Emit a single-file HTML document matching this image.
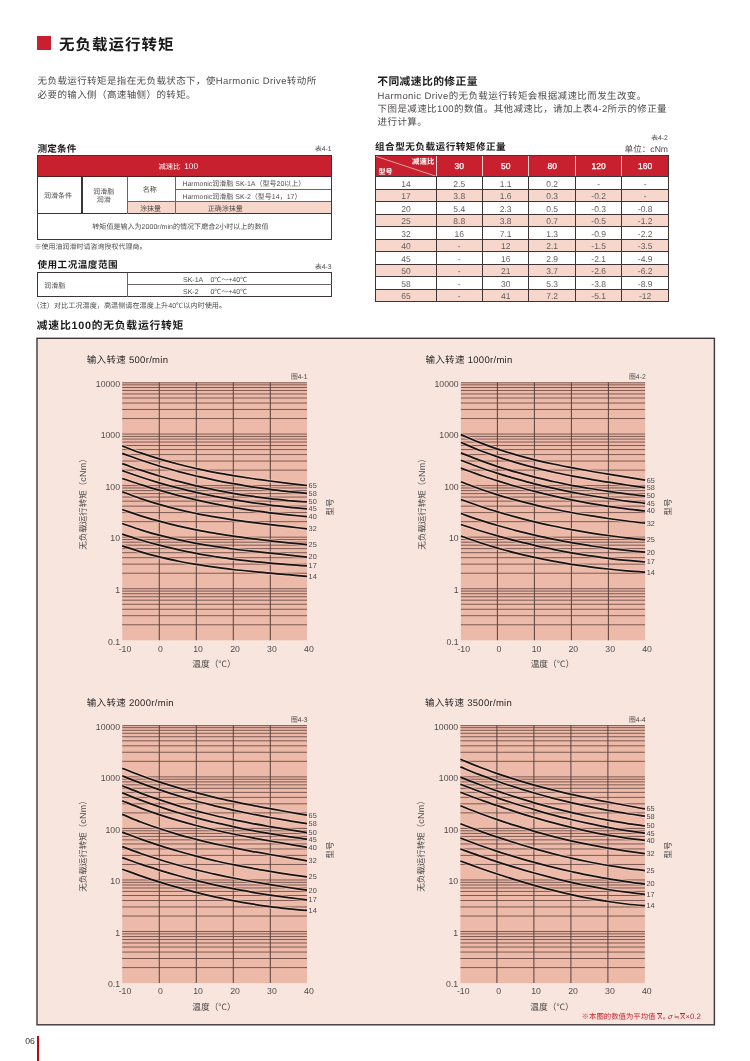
<!DOCTYPE html>
<html lang="zh"><head><meta charset="utf-8"><title>无负载运行转矩</title><style>
html,body{margin:0;padding:0;background:#fff;width:750px;height:1061px;overflow:hidden;}
#pg{will-change:transform;text-rendering:geometricPrecision;position:relative;width:750px;height:1061px;overflow:hidden;background:#fff;font-family:"Liberation Sans","Noto Sans CJK SC",sans-serif;color:#231f20;}
.t{position:absolute;white-space:nowrap;line-height:1.3;}
.b{position:absolute;box-sizing:border-box;display:block;}
</style></head><body>
<div id="pg">
<div class="b" style="left:37.00px;top:36.00px;width:14.00px;height:14.00px;background:#c8202f;"></div>
<div class="t" style="left:59.00px;top:35.60px;font-size:15.50px;font-weight:bold;color:#1a1a1a;letter-spacing:1.00px;">无负载运行转矩</div>
<div class="t" style="left:37.60px;top:76.22px;font-size:9.50px;color:#4f4b4b;letter-spacing:0.40px;">无负载运行转矩是指在无负载状态下，使Harmonic Drive转动所</div>
<div class="t" style="left:37.60px;top:89.53px;font-size:9.50px;color:#4f4b4b;letter-spacing:0.40px;">必要的输入侧（高速轴侧）的转矩。</div>
<div class="t" style="left:377.20px;top:75.40px;font-size:10.80px;font-weight:bold;color:#1a1a1a;letter-spacing:0.40px;">不同减速比的修正量</div>
<div class="t" style="left:377.60px;top:90.53px;font-size:9.50px;color:#4f4b4b;letter-spacing:0.40px;">Harmonic Drive的无负载运行转矩会根据减速比而发生改变。</div>
<div class="t" style="left:377.60px;top:103.92px;font-size:9.50px;color:#4f4b4b;letter-spacing:0.40px;">下图是减速比100的数值。其他减速比，请加上表4-2所示的修正量</div>
<div class="t" style="left:377.60px;top:117.22px;font-size:9.50px;color:#4f4b4b;letter-spacing:0.40px;">进行计算。</div>
<div class="t" style="left:37.60px;top:143.55px;font-size:9.60px;font-weight:bold;color:#1a1a1a;letter-spacing:0.10px;">测定条件</div>
<div class="t sm" style="left:331.60px;top:146.30px;font-size:6.80px;transform:translateX(-100%);color:#4f4b4b;">表4-1</div>
<div class="b" style="left:36.80px;top:155.00px;width:295.60px;height:85.20px;background:#fff;"></div>
<div class="b" style="left:36.80px;top:155.00px;width:295.60px;height:21.40px;background:#c8202f;"></div>
<div class="b" style="left:127.50px;top:201.40px;width:204.90px;height:12.20px;background:#f7d6cc;"></div>
<div class="b" style="left:36.80px;top:176.00px;width:295.60px;height:1.00px;background:#5a1a1e;"></div>
<div class="b" style="left:36.80px;top:213.15px;width:295.60px;height:1.30px;background:#3d3436;"></div>
<div class="b" style="left:175.60px;top:188.75px;width:156.80px;height:0.70px;background:#6b6565;"></div>
<div class="b" style="left:127.50px;top:200.95px;width:204.90px;height:0.70px;background:#6b6565;"></div>
<div class="b" style="left:81.40px;top:176.50px;width:1.20px;height:37.30px;background:#3d3436;"></div>
<div class="b" style="left:127.10px;top:176.50px;width:0.80px;height:37.30px;background:#6b6565;"></div>
<div class="b" style="left:175.25px;top:176.50px;width:0.70px;height:37.30px;background:#6b6565;"></div>
<div class="b" style="left:36.80px;top:155.00px;width:295.60px;height:85.20px;border:1.2px solid #3d3436;"></div>
<div class="t sm" style="left:180.40px;top:162.17px;font-size:7.30px;transform:translateX(-100%);color:#fff;">减速比</div>
<div class="t" style="left:184.20px;top:161.39px;font-size:8.40px;color:#fff;">100</div>
<div class="t sm" style="left:58.00px;top:192.29px;font-size:7.00px;transform:translateX(-50%);color:#4f4b4b;">润滑条件</div>
<div class="t sm" style="left:103.80px;top:188.19px;font-size:7.00px;transform:translateX(-50%);color:#4f4b4b;">润滑脂</div>
<div class="t sm" style="left:103.80px;top:196.39px;font-size:7.00px;transform:translateX(-50%);color:#4f4b4b;">润滑</div>
<div class="t sm" style="left:149.80px;top:186.05px;font-size:7.10px;transform:translateX(-50%);color:#4f4b4b;">名称</div>
<div class="t sm" style="left:150.40px;top:205.29px;font-size:7.00px;transform:translateX(-50%);color:#4f4b4b;">涂抹量</div>
<div class="t sm" style="left:182.40px;top:179.99px;font-size:7.00px;color:#4f4b4b;">Harmonic润滑脂 SK-1A（型号20以上）</div>
<div class="t sm" style="left:182.40px;top:192.79px;font-size:7.00px;color:#4f4b4b;">Harmonic润滑脂 SK-2（型号14，17）</div>
<div class="t sm" style="left:225.30px;top:205.09px;font-size:7.00px;transform:translateX(-50%);color:#4f4b4b;">正确涂抹量</div>
<div class="t sm" style="left:180.40px;top:223.08px;font-size:7.05px;transform:translateX(-50%);color:#4f4b4b;">转矩值是输入为2000r/min的情况下磨合2小时以上的数值</div>
<div class="t sm" style="left:34.40px;top:242.99px;font-size:7.00px;color:#4f4b4b;">※使用油润滑时请咨询授权代理商。</div>
<div class="t" style="left:37.40px;top:260.05px;font-size:9.60px;font-weight:bold;color:#1a1a1a;letter-spacing:0.50px;">使用工况温度范围</div>
<div class="t sm" style="left:331.60px;top:264.10px;font-size:6.80px;transform:translateX(-100%);color:#4f4b4b;">表4-3</div>
<div class="b" style="left:36.80px;top:271.80px;width:295.60px;height:25.70px;border:1.2px solid #3d3436;background:#fff;"></div>
<div class="b" style="left:127.20px;top:284.05px;width:205.20px;height:0.70px;background:#6b6565;"></div>
<div class="b" style="left:126.80px;top:272.50px;width:0.80px;height:24.50px;background:#6b6565;"></div>
<div class="t sm" style="left:44.20px;top:282.49px;font-size:7.00px;color:#4f4b4b;">润滑脂</div>
<div class="t sm" style="left:183.00px;top:276.46px;font-size:7.00px;color:#4f4b4b;">SK-1A</div>
<div class="t sm" style="left:210.40px;top:276.29px;font-size:7.00px;color:#4f4b4b;">0℃～+40℃</div>
<div class="t sm" style="left:183.00px;top:288.36px;font-size:7.00px;color:#4f4b4b;">SK-2</div>
<div class="t sm" style="left:210.40px;top:288.19px;font-size:7.00px;color:#4f4b4b;">0℃～+40℃</div>
<div class="t sm" style="left:32.50px;top:301.62px;font-size:7.15px;color:#4f4b4b;">（注）对比工况温度，高温侧请在温度上升40℃以内时使用。</div>
<div class="t" style="left:375.00px;top:142.15px;font-size:9.60px;font-weight:bold;color:#1a1a1a;letter-spacing:0.50px;">组合型无负载运行转矩修正量</div>
<div class="t sm" style="left:667.80px;top:135.30px;font-size:6.80px;transform:translateX(-100%);color:#4f4b4b;">表4-2</div>
<div class="t" style="left:668.00px;top:143.97px;font-size:8.60px;transform:translateX(-100%);color:#4f4b4b;">单位：cNm</div>
<div class="b" style="left:375.80px;top:155.30px;width:292.60px;height:146.30px;background:#fff;"></div>
<div class="b" style="left:375.80px;top:155.30px;width:292.60px;height:21.20px;background:#c8202f;"></div>
<div class="b" style="left:375.80px;top:189.01px;width:292.60px;height:12.51px;background:#f7d6cc;"></div>
<div class="b" style="left:375.80px;top:214.03px;width:292.60px;height:12.51px;background:#f7d6cc;"></div>
<div class="b" style="left:375.80px;top:239.05px;width:292.60px;height:12.51px;background:#f7d6cc;"></div>
<div class="b" style="left:375.80px;top:264.07px;width:292.60px;height:12.51px;background:#f7d6cc;"></div>
<div class="b" style="left:375.80px;top:289.09px;width:292.60px;height:12.51px;background:#f7d6cc;"></div>
<div class="b" style="left:375.80px;top:188.71px;width:292.60px;height:0.60px;background:#3d3436;"></div>
<div class="b" style="left:375.80px;top:201.22px;width:292.60px;height:0.60px;background:#3d3436;"></div>
<div class="b" style="left:375.80px;top:213.73px;width:292.60px;height:0.60px;background:#3d3436;"></div>
<div class="b" style="left:375.80px;top:226.24px;width:292.60px;height:0.60px;background:#3d3436;"></div>
<div class="b" style="left:375.80px;top:238.75px;width:292.60px;height:0.60px;background:#3d3436;"></div>
<div class="b" style="left:375.80px;top:251.26px;width:292.60px;height:0.60px;background:#3d3436;"></div>
<div class="b" style="left:375.80px;top:263.77px;width:292.60px;height:0.60px;background:#3d3436;"></div>
<div class="b" style="left:375.80px;top:276.28px;width:292.60px;height:0.60px;background:#3d3436;"></div>
<div class="b" style="left:375.80px;top:288.79px;width:292.60px;height:0.60px;background:#3d3436;"></div>
<div class="b" style="left:375.80px;top:176.10px;width:292.60px;height:0.80px;background:#3d3436;"></div>
<div class="b" style="left:435.55px;top:176.50px;width:1.10px;height:125.10px;background:#3d3436;"></div>
<div class="b" style="left:435.50px;top:155.90px;width:1.20px;height:20.20px;background:#f0cfcf;"></div>
<div class="b" style="left:481.85px;top:176.50px;width:1.10px;height:125.10px;background:#3d3436;"></div>
<div class="b" style="left:481.80px;top:155.90px;width:1.20px;height:20.20px;background:#f0cfcf;"></div>
<div class="b" style="left:528.35px;top:176.50px;width:1.10px;height:125.10px;background:#3d3436;"></div>
<div class="b" style="left:528.30px;top:155.90px;width:1.20px;height:20.20px;background:#f0cfcf;"></div>
<div class="b" style="left:574.85px;top:176.50px;width:1.10px;height:125.10px;background:#3d3436;"></div>
<div class="b" style="left:574.80px;top:155.90px;width:1.20px;height:20.20px;background:#f0cfcf;"></div>
<div class="b" style="left:621.35px;top:176.50px;width:1.10px;height:125.10px;background:#3d3436;"></div>
<div class="b" style="left:621.30px;top:155.90px;width:1.20px;height:20.20px;background:#f0cfcf;"></div>
<div class="b" style="left:375.30px;top:154.80px;width:293.60px;height:147.30px;border:1px solid #3d3436;"></div>
<svg class="b" style="left:376.30px;top:156.30px" width="60.30" height="20.20"><line x1="0" y1="0.3" x2="59.80" y2="20.20" stroke="#f3d3d0" stroke-width="0.7"/></svg>
<div class="t" style="left:434.30px;top:156.61px;font-size:7.40px;transform:translateX(-100%);font-weight:bold;color:#fff;">减速比</div>
<div class="t" style="left:378.40px;top:167.89px;font-size:7.00px;font-weight:bold;color:#fff;">型号</div>
<div class="t" style="left:459.25px;top:161.30px;font-size:8.50px;transform:translateX(-50%);color:#fff;-webkit-text-stroke:0.25px #fff;">30</div>
<div class="t" style="left:505.65px;top:161.30px;font-size:8.50px;transform:translateX(-50%);color:#fff;-webkit-text-stroke:0.25px #fff;">50</div>
<div class="t" style="left:552.15px;top:161.30px;font-size:8.50px;transform:translateX(-50%);color:#fff;-webkit-text-stroke:0.25px #fff;">80</div>
<div class="t" style="left:598.65px;top:161.30px;font-size:8.50px;transform:translateX(-50%);color:#fff;-webkit-text-stroke:0.25px #fff;">120</div>
<div class="t" style="left:645.15px;top:161.30px;font-size:8.50px;transform:translateX(-50%);color:#fff;-webkit-text-stroke:0.25px #fff;">160</div>
<div class="t" style="left:405.95px;top:178.90px;font-size:8.50px;transform:translateX(-50%);color:#625e5e;">14</div>
<div class="t" style="left:459.25px;top:178.90px;font-size:8.50px;transform:translateX(-50%);color:#625e5e;">2.5</div>
<div class="t" style="left:505.65px;top:178.90px;font-size:8.50px;transform:translateX(-50%);color:#625e5e;">1.1</div>
<div class="t" style="left:552.15px;top:178.90px;font-size:8.50px;transform:translateX(-50%);color:#625e5e;">0.2</div>
<div class="t" style="left:598.65px;top:178.90px;font-size:8.50px;transform:translateX(-50%);color:#625e5e;">-</div>
<div class="t" style="left:645.15px;top:178.90px;font-size:8.50px;transform:translateX(-50%);color:#625e5e;">-</div>
<div class="t" style="left:405.95px;top:191.41px;font-size:8.50px;transform:translateX(-50%);color:#625e5e;">17</div>
<div class="t" style="left:459.25px;top:191.41px;font-size:8.50px;transform:translateX(-50%);color:#625e5e;">3.8</div>
<div class="t" style="left:505.65px;top:191.41px;font-size:8.50px;transform:translateX(-50%);color:#625e5e;">1.6</div>
<div class="t" style="left:552.15px;top:191.41px;font-size:8.50px;transform:translateX(-50%);color:#625e5e;">0.3</div>
<div class="t" style="left:598.65px;top:191.41px;font-size:8.50px;transform:translateX(-50%);color:#625e5e;">-0.2</div>
<div class="t" style="left:645.15px;top:191.41px;font-size:8.50px;transform:translateX(-50%);color:#625e5e;">-</div>
<div class="t" style="left:405.95px;top:203.92px;font-size:8.50px;transform:translateX(-50%);color:#625e5e;">20</div>
<div class="t" style="left:459.25px;top:203.92px;font-size:8.50px;transform:translateX(-50%);color:#625e5e;">5.4</div>
<div class="t" style="left:505.65px;top:203.92px;font-size:8.50px;transform:translateX(-50%);color:#625e5e;">2.3</div>
<div class="t" style="left:552.15px;top:203.92px;font-size:8.50px;transform:translateX(-50%);color:#625e5e;">0.5</div>
<div class="t" style="left:598.65px;top:203.92px;font-size:8.50px;transform:translateX(-50%);color:#625e5e;">-0.3</div>
<div class="t" style="left:645.15px;top:203.92px;font-size:8.50px;transform:translateX(-50%);color:#625e5e;">-0.8</div>
<div class="t" style="left:405.95px;top:216.43px;font-size:8.50px;transform:translateX(-50%);color:#625e5e;">25</div>
<div class="t" style="left:459.25px;top:216.43px;font-size:8.50px;transform:translateX(-50%);color:#625e5e;">8.8</div>
<div class="t" style="left:505.65px;top:216.43px;font-size:8.50px;transform:translateX(-50%);color:#625e5e;">3.8</div>
<div class="t" style="left:552.15px;top:216.43px;font-size:8.50px;transform:translateX(-50%);color:#625e5e;">0.7</div>
<div class="t" style="left:598.65px;top:216.43px;font-size:8.50px;transform:translateX(-50%);color:#625e5e;">-0.5</div>
<div class="t" style="left:645.15px;top:216.43px;font-size:8.50px;transform:translateX(-50%);color:#625e5e;">-1.2</div>
<div class="t" style="left:405.95px;top:228.94px;font-size:8.50px;transform:translateX(-50%);color:#625e5e;">32</div>
<div class="t" style="left:459.25px;top:228.94px;font-size:8.50px;transform:translateX(-50%);color:#625e5e;">16</div>
<div class="t" style="left:505.65px;top:228.94px;font-size:8.50px;transform:translateX(-50%);color:#625e5e;">7.1</div>
<div class="t" style="left:552.15px;top:228.94px;font-size:8.50px;transform:translateX(-50%);color:#625e5e;">1.3</div>
<div class="t" style="left:598.65px;top:228.94px;font-size:8.50px;transform:translateX(-50%);color:#625e5e;">-0.9</div>
<div class="t" style="left:645.15px;top:228.94px;font-size:8.50px;transform:translateX(-50%);color:#625e5e;">-2.2</div>
<div class="t" style="left:405.95px;top:241.45px;font-size:8.50px;transform:translateX(-50%);color:#625e5e;">40</div>
<div class="t" style="left:459.25px;top:241.45px;font-size:8.50px;transform:translateX(-50%);color:#625e5e;">-</div>
<div class="t" style="left:505.65px;top:241.45px;font-size:8.50px;transform:translateX(-50%);color:#625e5e;">12</div>
<div class="t" style="left:552.15px;top:241.45px;font-size:8.50px;transform:translateX(-50%);color:#625e5e;">2.1</div>
<div class="t" style="left:598.65px;top:241.45px;font-size:8.50px;transform:translateX(-50%);color:#625e5e;">-1.5</div>
<div class="t" style="left:645.15px;top:241.45px;font-size:8.50px;transform:translateX(-50%);color:#625e5e;">-3.5</div>
<div class="t" style="left:405.95px;top:253.96px;font-size:8.50px;transform:translateX(-50%);color:#625e5e;">45</div>
<div class="t" style="left:459.25px;top:253.96px;font-size:8.50px;transform:translateX(-50%);color:#625e5e;">-</div>
<div class="t" style="left:505.65px;top:253.96px;font-size:8.50px;transform:translateX(-50%);color:#625e5e;">16</div>
<div class="t" style="left:552.15px;top:253.96px;font-size:8.50px;transform:translateX(-50%);color:#625e5e;">2.9</div>
<div class="t" style="left:598.65px;top:253.96px;font-size:8.50px;transform:translateX(-50%);color:#625e5e;">-2.1</div>
<div class="t" style="left:645.15px;top:253.96px;font-size:8.50px;transform:translateX(-50%);color:#625e5e;">-4.9</div>
<div class="t" style="left:405.95px;top:266.47px;font-size:8.50px;transform:translateX(-50%);color:#625e5e;">50</div>
<div class="t" style="left:459.25px;top:266.47px;font-size:8.50px;transform:translateX(-50%);color:#625e5e;">-</div>
<div class="t" style="left:505.65px;top:266.47px;font-size:8.50px;transform:translateX(-50%);color:#625e5e;">21</div>
<div class="t" style="left:552.15px;top:266.47px;font-size:8.50px;transform:translateX(-50%);color:#625e5e;">3.7</div>
<div class="t" style="left:598.65px;top:266.47px;font-size:8.50px;transform:translateX(-50%);color:#625e5e;">-2.6</div>
<div class="t" style="left:645.15px;top:266.47px;font-size:8.50px;transform:translateX(-50%);color:#625e5e;">-6.2</div>
<div class="t" style="left:405.95px;top:278.98px;font-size:8.50px;transform:translateX(-50%);color:#625e5e;">58</div>
<div class="t" style="left:459.25px;top:278.98px;font-size:8.50px;transform:translateX(-50%);color:#625e5e;">-</div>
<div class="t" style="left:505.65px;top:278.98px;font-size:8.50px;transform:translateX(-50%);color:#625e5e;">30</div>
<div class="t" style="left:552.15px;top:278.98px;font-size:8.50px;transform:translateX(-50%);color:#625e5e;">5.3</div>
<div class="t" style="left:598.65px;top:278.98px;font-size:8.50px;transform:translateX(-50%);color:#625e5e;">-3.8</div>
<div class="t" style="left:645.15px;top:278.98px;font-size:8.50px;transform:translateX(-50%);color:#625e5e;">-8.9</div>
<div class="t" style="left:405.95px;top:291.49px;font-size:8.50px;transform:translateX(-50%);color:#625e5e;">65</div>
<div class="t" style="left:459.25px;top:291.49px;font-size:8.50px;transform:translateX(-50%);color:#625e5e;">-</div>
<div class="t" style="left:505.65px;top:291.49px;font-size:8.50px;transform:translateX(-50%);color:#625e5e;">41</div>
<div class="t" style="left:552.15px;top:291.49px;font-size:8.50px;transform:translateX(-50%);color:#625e5e;">7.2</div>
<div class="t" style="left:598.65px;top:291.49px;font-size:8.50px;transform:translateX(-50%);color:#625e5e;">-5.1</div>
<div class="t" style="left:645.15px;top:291.49px;font-size:8.50px;transform:translateX(-50%);color:#625e5e;">-12</div>
<div class="t" style="left:36.80px;top:319.40px;font-size:10.80px;font-weight:bold;color:#1a1a1a;letter-spacing:0.75px;">减速比100的无负载运行转矩</div>
<svg class="b" style="left:30px;top:330px" width="700" height="705" viewBox="30 330 700 705"><rect x="37.0" y="338.3" width="677.4" height="686.5" fill="#f8e5de" stroke="#40373a" stroke-width="1.4"/></svg>
<svg class="b" style="left:121px;top:380px" width="188" height="263" viewBox="0 0 188 263"><g transform="translate(1.20 2.50)"><rect x="0" y="0" width="184.8" height="257.8" fill="#edbaa9"/><path d="M0 242.28H184.8M0 233.20H184.8M0 226.76H184.8M0 221.76H184.8M0 217.68H184.8M0 214.23H184.8M0 211.24H184.8M0 208.60H184.8M0 206.24H184.8M0 190.72H184.8M0 181.64H184.8M0 175.20H184.8M0 170.20H184.8M0 166.12H184.8M0 162.67H184.8M0 159.68H184.8M0 157.04H184.8M0 154.68H184.8M0 139.16H184.8M0 130.08H184.8M0 123.64H184.8M0 118.64H184.8M0 114.56H184.8M0 111.11H184.8M0 108.12H184.8M0 105.48H184.8M0 103.12H184.8M0 87.60H184.8M0 78.52H184.8M0 72.08H184.8M0 67.08H184.8M0 63.00H184.8M0 59.55H184.8M0 56.56H184.8M0 53.92H184.8M0 51.56H184.8M0 36.04H184.8M0 26.96H184.8M0 20.52H184.8M0 15.52H184.8M0 11.44H184.8M0 7.99H184.8M0 5.00H184.8M0 2.36H184.8M0 0.3H184.8" stroke="#7c5a52" stroke-width="1" fill="none"/><path d="M37.10 0V257.8M74.10 0V257.8M111.10 0V257.8M148.10 0V257.8" stroke="#5c4541" stroke-width="1.05" fill="none"/><path d="M0.0 63.5C6.2 65.8 12.3 68.3 18.5 70.4C24.6 72.5 30.8 74.5 37.0 76.4C43.1 78.2 49.3 79.9 55.4 81.5C61.6 83.1 67.8 84.6 73.9 86.0C80.1 87.3 86.2 88.6 92.4 89.8C98.6 91.0 104.7 92.0 110.9 93.1C117.0 94.1 123.2 95.0 129.4 96.0C135.5 96.9 141.7 97.7 147.8 98.5C154.0 99.3 160.2 100.1 166.3 100.8C172.5 101.6 178.6 102.3 184.8 103.0M0.0 70.9C6.2 73.1 12.3 75.5 18.5 77.5C24.6 79.6 30.8 81.6 37.0 83.5C43.1 85.4 49.3 87.1 55.4 88.8C61.6 90.4 67.8 92.0 73.9 93.5C80.1 94.9 86.2 96.3 92.4 97.6C98.6 98.9 104.7 100.1 110.9 101.2C117.0 102.3 123.2 103.3 129.4 104.3C135.5 105.2 141.7 106.1 147.8 106.9C154.0 107.7 160.2 108.4 166.3 109.1C172.5 109.7 178.6 110.2 184.8 110.8M0.0 81.2C6.2 83.3 12.3 85.6 18.5 87.7C24.6 89.7 30.8 91.6 37.0 93.5C43.1 95.3 49.3 97.0 55.4 98.7C61.6 100.3 67.8 101.8 73.9 103.3C80.1 104.7 86.2 106.1 92.4 107.3C98.6 108.6 104.7 109.7 110.9 110.8C117.0 111.8 123.2 112.8 129.4 113.7C135.5 114.6 141.7 115.4 147.8 116.1C154.0 116.9 160.2 117.5 166.3 118.1C172.5 118.6 178.6 119.0 184.8 119.5M0.0 88.1C6.2 90.3 12.3 92.5 18.5 94.5C24.6 96.6 30.8 98.5 37.0 100.3C43.1 102.1 49.3 103.8 55.4 105.4C61.6 107.0 67.8 108.5 73.9 109.9C80.1 111.3 86.2 112.6 92.4 113.8C98.6 115.0 104.7 116.2 110.9 117.2C117.0 118.3 123.2 119.2 129.4 120.1C135.5 121.0 141.7 121.8 147.8 122.6C154.0 123.4 160.2 124.0 166.3 124.6C172.5 125.3 178.6 125.8 184.8 126.3M0.0 96.0C6.2 98.0 12.3 100.2 18.5 102.1C24.6 104.1 30.8 105.9 37.0 107.7C43.1 109.5 49.3 111.2 55.4 112.8C61.6 114.3 67.8 115.8 73.9 117.3C80.1 118.7 86.2 120.0 92.4 121.3C98.6 122.5 104.7 123.7 110.9 124.8C117.0 125.8 123.2 126.8 129.4 127.8C135.5 128.7 141.7 129.5 147.8 130.3C154.0 131.1 160.2 131.8 166.3 132.4C172.5 133.0 178.6 133.5 184.8 134.1M0.0 109.2C6.2 111.5 12.3 113.9 18.5 116.1C24.6 118.2 30.8 120.1 37.0 121.9C43.1 123.7 49.3 125.3 55.4 126.8C61.6 128.3 67.8 129.7 73.9 131.0C80.1 132.2 86.2 133.4 92.4 134.4C98.6 135.5 104.7 136.5 110.9 137.4C117.0 138.3 123.2 139.1 129.4 139.9C135.5 140.7 141.7 141.4 147.8 142.1C154.0 142.9 160.2 143.5 166.3 144.2C172.5 144.9 178.6 145.6 184.8 146.3M0.0 127.0C6.2 129.1 12.3 131.3 18.5 133.3C24.6 135.2 30.8 137.0 37.0 138.6C43.1 140.3 49.3 141.9 55.4 143.3C61.6 144.7 67.8 146.0 73.9 147.3C80.1 148.5 86.2 149.6 92.4 150.7C98.6 151.7 104.7 152.7 110.9 153.6C117.0 154.5 123.2 155.3 129.4 156.1C135.5 156.9 141.7 157.6 147.8 158.3C154.0 159.0 160.2 159.6 166.3 160.3C172.5 160.9 178.6 161.5 184.8 162.1M0.0 141.0C6.2 143.1 12.3 145.4 18.5 147.3C24.6 149.3 30.8 151.1 37.0 152.7C43.1 154.3 49.3 155.8 55.4 157.1C61.6 158.5 67.8 159.7 73.9 160.8C80.1 162.0 86.2 162.9 92.4 163.9C98.6 164.8 104.7 165.7 110.9 166.5C117.0 167.3 123.2 168.0 129.4 168.7C135.5 169.4 141.7 170.0 147.8 170.7C154.0 171.3 160.2 171.9 166.3 172.6C172.5 173.2 178.6 173.9 184.8 174.6M0.0 151.6C6.2 153.6 12.3 155.7 18.5 157.5C24.6 159.4 30.8 161.1 37.0 162.7C43.1 164.3 49.3 165.7 55.4 167.1C61.6 168.4 67.8 169.7 73.9 170.8C80.1 172.0 86.2 173.0 92.4 174.0C98.6 174.9 104.7 175.8 110.9 176.6C117.0 177.4 123.2 178.1 129.4 178.8C135.5 179.4 141.7 180.0 147.8 180.6C154.0 181.2 160.2 181.7 166.3 182.1C172.5 182.6 178.6 183.0 184.8 183.4M0.0 163.3C6.2 165.3 12.3 167.5 18.5 169.3C24.6 171.2 30.8 172.8 37.0 174.4C43.1 175.9 49.3 177.2 55.4 178.5C61.6 179.8 67.8 180.9 73.9 181.9C80.1 182.9 86.2 183.8 92.4 184.7C98.6 185.5 104.7 186.3 110.9 187.0C117.0 187.7 123.2 188.3 129.4 188.9C135.5 189.5 141.7 190.1 147.8 190.6C154.0 191.2 160.2 191.7 166.3 192.2C172.5 192.8 178.6 193.3 184.8 193.9" stroke="#f6d3c6" stroke-opacity="0.55" stroke-width="3.6" fill="none"/><path d="M0.0 63.5C6.2 65.8 12.3 68.3 18.5 70.4C24.6 72.5 30.8 74.5 37.0 76.4C43.1 78.2 49.3 79.9 55.4 81.5C61.6 83.1 67.8 84.6 73.9 86.0C80.1 87.3 86.2 88.6 92.4 89.8C98.6 91.0 104.7 92.0 110.9 93.1C117.0 94.1 123.2 95.0 129.4 96.0C135.5 96.9 141.7 97.7 147.8 98.5C154.0 99.3 160.2 100.1 166.3 100.8C172.5 101.6 178.6 102.3 184.8 103.0M0.0 70.9C6.2 73.1 12.3 75.5 18.5 77.5C24.6 79.6 30.8 81.6 37.0 83.5C43.1 85.4 49.3 87.1 55.4 88.8C61.6 90.4 67.8 92.0 73.9 93.5C80.1 94.9 86.2 96.3 92.4 97.6C98.6 98.9 104.7 100.1 110.9 101.2C117.0 102.3 123.2 103.3 129.4 104.3C135.5 105.2 141.7 106.1 147.8 106.9C154.0 107.7 160.2 108.4 166.3 109.1C172.5 109.7 178.6 110.2 184.8 110.8M0.0 81.2C6.2 83.3 12.3 85.6 18.5 87.7C24.6 89.7 30.8 91.6 37.0 93.5C43.1 95.3 49.3 97.0 55.4 98.7C61.6 100.3 67.8 101.8 73.9 103.3C80.1 104.7 86.2 106.1 92.4 107.3C98.6 108.6 104.7 109.7 110.9 110.8C117.0 111.8 123.2 112.8 129.4 113.7C135.5 114.6 141.7 115.4 147.8 116.1C154.0 116.9 160.2 117.5 166.3 118.1C172.5 118.6 178.6 119.0 184.8 119.5M0.0 88.1C6.2 90.3 12.3 92.5 18.5 94.5C24.6 96.6 30.8 98.5 37.0 100.3C43.1 102.1 49.3 103.8 55.4 105.4C61.6 107.0 67.8 108.5 73.9 109.9C80.1 111.3 86.2 112.6 92.4 113.8C98.6 115.0 104.7 116.2 110.9 117.2C117.0 118.3 123.2 119.2 129.4 120.1C135.5 121.0 141.7 121.8 147.8 122.6C154.0 123.4 160.2 124.0 166.3 124.6C172.5 125.3 178.6 125.8 184.8 126.3M0.0 96.0C6.2 98.0 12.3 100.2 18.5 102.1C24.6 104.1 30.8 105.9 37.0 107.7C43.1 109.5 49.3 111.2 55.4 112.8C61.6 114.3 67.8 115.8 73.9 117.3C80.1 118.7 86.2 120.0 92.4 121.3C98.6 122.5 104.7 123.7 110.9 124.8C117.0 125.8 123.2 126.8 129.4 127.8C135.5 128.7 141.7 129.5 147.8 130.3C154.0 131.1 160.2 131.8 166.3 132.4C172.5 133.0 178.6 133.5 184.8 134.1M0.0 109.2C6.2 111.5 12.3 113.9 18.5 116.1C24.6 118.2 30.8 120.1 37.0 121.9C43.1 123.7 49.3 125.3 55.4 126.8C61.6 128.3 67.8 129.7 73.9 131.0C80.1 132.2 86.2 133.4 92.4 134.4C98.6 135.5 104.7 136.5 110.9 137.4C117.0 138.3 123.2 139.1 129.4 139.9C135.5 140.7 141.7 141.4 147.8 142.1C154.0 142.9 160.2 143.5 166.3 144.2C172.5 144.9 178.6 145.6 184.8 146.3M0.0 127.0C6.2 129.1 12.3 131.3 18.5 133.3C24.6 135.2 30.8 137.0 37.0 138.6C43.1 140.3 49.3 141.9 55.4 143.3C61.6 144.7 67.8 146.0 73.9 147.3C80.1 148.5 86.2 149.6 92.4 150.7C98.6 151.7 104.7 152.7 110.9 153.6C117.0 154.5 123.2 155.3 129.4 156.1C135.5 156.9 141.7 157.6 147.8 158.3C154.0 159.0 160.2 159.6 166.3 160.3C172.5 160.9 178.6 161.5 184.8 162.1M0.0 141.0C6.2 143.1 12.3 145.4 18.5 147.3C24.6 149.3 30.8 151.1 37.0 152.7C43.1 154.3 49.3 155.8 55.4 157.1C61.6 158.5 67.8 159.7 73.9 160.8C80.1 162.0 86.2 162.9 92.4 163.9C98.6 164.8 104.7 165.7 110.9 166.5C117.0 167.3 123.2 168.0 129.4 168.7C135.5 169.4 141.7 170.0 147.8 170.7C154.0 171.3 160.2 171.9 166.3 172.6C172.5 173.2 178.6 173.9 184.8 174.6M0.0 151.6C6.2 153.6 12.3 155.7 18.5 157.5C24.6 159.4 30.8 161.1 37.0 162.7C43.1 164.3 49.3 165.7 55.4 167.1C61.6 168.4 67.8 169.7 73.9 170.8C80.1 172.0 86.2 173.0 92.4 174.0C98.6 174.9 104.7 175.8 110.9 176.6C117.0 177.4 123.2 178.1 129.4 178.8C135.5 179.4 141.7 180.0 147.8 180.6C154.0 181.2 160.2 181.7 166.3 182.1C172.5 182.6 178.6 183.0 184.8 183.4M0.0 163.3C6.2 165.3 12.3 167.5 18.5 169.3C24.6 171.2 30.8 172.8 37.0 174.4C43.1 175.9 49.3 177.2 55.4 178.5C61.6 179.8 67.8 180.9 73.9 181.9C80.1 182.9 86.2 183.8 92.4 184.7C98.6 185.5 104.7 186.3 110.9 187.0C117.0 187.7 123.2 188.3 129.4 188.9C135.5 189.5 141.7 190.1 147.8 190.6C154.0 191.2 160.2 191.7 166.3 192.2C172.5 192.8 178.6 193.3 184.8 193.9" stroke="#151313" stroke-width="1.75" fill="none"/></g></svg>
<div class="t" style="left:86.80px;top:354.93px;font-size:9.50px;color:#2a2626;letter-spacing:0.30px;">输入转速 500r/min</div>
<div class="t sm" style="left:307.60px;top:373.80px;font-size:6.80px;transform:translateX(-100%);color:#4f4b4b;">图4-1</div>
<div class="t" style="left:120.00px;top:378.80px;font-size:8.70px;transform:translateX(-100%);color:#4f4a4a;">10000</div>
<div class="t" style="left:120.00px;top:430.36px;font-size:8.70px;transform:translateX(-100%);color:#4f4a4a;">1000</div>
<div class="t" style="left:120.00px;top:481.92px;font-size:8.70px;transform:translateX(-100%);color:#4f4a4a;">100</div>
<div class="t" style="left:120.00px;top:533.48px;font-size:8.70px;transform:translateX(-100%);color:#4f4a4a;">10</div>
<div class="t" style="left:120.00px;top:585.04px;font-size:8.70px;transform:translateX(-100%);color:#4f4a4a;">1</div>
<div class="t" style="left:120.00px;top:636.60px;font-size:8.70px;transform:translateX(-100%);color:#4f4a4a;">0.1</div>
<div class="t" style="left:125.00px;top:643.60px;font-size:8.70px;transform:translateX(-50%);color:#4f4a4a;">-10</div>
<div class="t" style="left:160.46px;top:643.60px;font-size:8.70px;transform:translateX(-50%);color:#4f4a4a;">0</div>
<div class="t" style="left:198.02px;top:643.60px;font-size:8.70px;transform:translateX(-50%);color:#4f4a4a;">10</div>
<div class="t" style="left:234.98px;top:643.60px;font-size:8.70px;transform:translateX(-50%);color:#4f4a4a;">20</div>
<div class="t" style="left:271.94px;top:643.60px;font-size:8.70px;transform:translateX(-50%);color:#4f4a4a;">30</div>
<div class="t" style="left:308.90px;top:643.60px;font-size:8.70px;transform:translateX(-50%);color:#4f4a4a;">40</div>
<div class="t" style="left:214.00px;top:659.30px;font-size:8.70px;transform:translateX(-50%);color:#4f4b4b;">温度（℃）</div>
<div class="t sm" style="left:308.60px;top:480.86px;font-size:7.30px;color:#4f4b4b;">65</div>
<div class="t sm" style="left:308.60px;top:488.71px;font-size:7.30px;color:#4f4b4b;">58</div>
<div class="t sm" style="left:308.60px;top:497.41px;font-size:7.30px;color:#4f4b4b;">50</div>
<div class="t sm" style="left:308.60px;top:504.18px;font-size:7.30px;color:#4f4b4b;">45</div>
<div class="t sm" style="left:308.60px;top:511.96px;font-size:7.30px;color:#4f4b4b;">40</div>
<div class="t sm" style="left:308.60px;top:524.13px;font-size:7.30px;color:#4f4b4b;">32</div>
<div class="t sm" style="left:308.60px;top:539.98px;font-size:7.30px;color:#4f4b4b;">25</div>
<div class="t sm" style="left:308.60px;top:552.45px;font-size:7.30px;color:#4f4b4b;">20</div>
<div class="t sm" style="left:308.60px;top:561.32px;font-size:7.30px;color:#4f4b4b;">17</div>
<div class="t sm" style="left:308.60px;top:571.76px;font-size:7.30px;color:#4f4b4b;">14</div>
<div class="t" style="left:83.80px;top:501.50px;font-size:8.5px;color:#4f4b4b;transform:translate(-50%,-50%) rotate(-90deg);">无负载运行转矩（<span style="font-size:8.9px;letter-spacing:0.3px">cNm</span>）</div>
<div class="t" style="left:331.20px;top:507.10px;font-size:8.5px;color:#4f4b4b;transform:translate(-50%,-50%) rotate(-90deg);">型号</div>
<svg class="b" style="left:459px;top:380px" width="189" height="263" viewBox="0 0 189 263"><g transform="translate(1.90 2.50)"><rect x="0" y="0" width="184.2" height="257.8" fill="#edbaa9"/><path d="M0 242.28H184.2M0 233.20H184.2M0 226.76H184.2M0 221.76H184.2M0 217.68H184.2M0 214.23H184.2M0 211.24H184.2M0 208.60H184.2M0 206.24H184.2M0 190.72H184.2M0 181.64H184.2M0 175.20H184.2M0 170.20H184.2M0 166.12H184.2M0 162.67H184.2M0 159.68H184.2M0 157.04H184.2M0 154.68H184.2M0 139.16H184.2M0 130.08H184.2M0 123.64H184.2M0 118.64H184.2M0 114.56H184.2M0 111.11H184.2M0 108.12H184.2M0 105.48H184.2M0 103.12H184.2M0 87.60H184.2M0 78.52H184.2M0 72.08H184.2M0 67.08H184.2M0 63.00H184.2M0 59.55H184.2M0 56.56H184.2M0 53.92H184.2M0 51.56H184.2M0 36.04H184.2M0 26.96H184.2M0 20.52H184.2M0 15.52H184.2M0 11.44H184.2M0 7.99H184.2M0 5.00H184.2M0 2.36H184.2M0 0.3H184.2" stroke="#7c5a52" stroke-width="1" fill="none"/><path d="M36.50 0V257.8M73.50 0V257.8M110.50 0V257.8M147.50 0V257.8" stroke="#5c4541" stroke-width="1.05" fill="none"/><path d="M0.0 52.1C6.1 54.7 12.3 57.5 18.4 59.9C24.6 62.4 30.7 64.6 36.8 66.7C43.0 68.7 49.1 70.6 55.3 72.4C61.4 74.2 67.5 75.8 73.7 77.3C79.8 78.8 86.0 80.2 92.1 81.5C98.2 82.8 104.4 84.0 110.5 85.2C116.7 86.3 122.8 87.4 128.9 88.5C135.1 89.6 141.2 90.6 147.4 91.6C153.5 92.6 159.6 93.6 165.8 94.6C171.9 95.6 178.1 96.7 184.2 97.7M0.0 60.0C6.1 62.6 12.3 65.3 18.4 67.7C24.6 70.0 30.7 72.2 36.8 74.3C43.0 76.4 49.1 78.3 55.3 80.1C61.4 81.9 67.5 83.6 73.7 85.1C79.8 86.7 86.0 88.1 92.1 89.5C98.2 90.9 104.4 92.1 110.5 93.3C116.7 94.5 122.8 95.6 128.9 96.7C135.1 97.8 141.2 98.7 147.4 99.7C153.5 100.7 159.6 101.6 165.8 102.5C171.9 103.4 178.1 104.3 184.2 105.2M0.0 70.4C6.1 72.8 12.3 75.4 18.4 77.6C24.6 79.9 30.7 82.0 36.8 84.1C43.0 86.1 49.1 87.9 55.3 89.7C61.4 91.5 67.5 93.1 73.7 94.7C79.8 96.2 86.0 97.6 92.1 99.0C98.2 100.3 104.4 101.6 110.5 102.8C116.7 103.9 122.8 105.0 128.9 106.0C135.1 107.1 141.2 108.0 147.4 108.9C153.5 109.8 159.6 110.6 165.8 111.4C171.9 112.2 178.1 112.9 184.2 113.6M0.0 77.8C6.1 80.1 12.3 82.5 18.4 84.7C24.6 86.9 30.7 88.9 36.8 90.9C43.0 92.8 49.1 94.7 55.3 96.4C61.4 98.1 67.5 99.8 73.7 101.3C79.8 102.9 86.0 104.4 92.1 105.7C98.2 107.1 104.4 108.4 110.5 109.6C116.7 110.8 122.8 111.9 128.9 113.0C135.1 114.1 141.2 115.1 147.4 116.0C153.5 116.9 159.6 117.8 165.8 118.6C171.9 119.4 178.1 120.0 184.2 120.8M0.0 85.6C6.1 87.8 12.3 90.1 18.4 92.3C24.6 94.4 30.7 96.5 36.8 98.4C43.0 100.4 49.1 102.2 55.3 104.0C61.4 105.7 67.5 107.4 73.7 108.9C79.8 110.5 86.0 112.0 92.1 113.4C98.2 114.8 104.4 116.1 110.5 117.3C116.7 118.5 122.8 119.7 128.9 120.8C135.1 121.8 141.2 122.8 147.4 123.8C153.5 124.7 159.6 125.6 165.8 126.3C171.9 127.1 178.1 127.8 184.2 128.5M0.0 99.3C6.1 101.6 12.3 104.0 18.4 106.2C24.6 108.4 30.7 110.4 36.8 112.3C43.0 114.2 49.1 116.0 55.3 117.7C61.4 119.3 67.5 120.9 73.7 122.4C79.8 123.8 86.0 125.2 92.1 126.5C98.2 127.7 104.4 128.9 110.5 130.0C116.7 131.2 122.8 132.2 128.9 133.2C135.1 134.2 141.2 135.1 147.4 136.0C153.5 136.8 159.6 137.7 165.8 138.5C171.9 139.3 178.1 140.0 184.2 140.7M0.0 117.0C6.1 119.2 12.3 121.4 18.4 123.5C24.6 125.6 30.7 127.5 36.8 129.4C43.0 131.2 49.1 133.0 55.3 134.6C61.4 136.3 67.5 137.9 73.7 139.3C79.8 140.8 86.0 142.2 92.1 143.5C98.2 144.8 104.4 146.0 110.5 147.2C116.7 148.3 122.8 149.3 128.9 150.3C135.1 151.3 141.2 152.2 147.4 153.0C153.5 153.9 159.6 154.6 165.8 155.3C171.9 156.0 178.1 156.6 184.2 157.2M0.0 131.0C6.1 133.1 12.3 135.3 18.4 137.3C24.6 139.3 30.7 141.2 36.8 143.0C43.0 144.8 49.1 146.5 55.3 148.1C61.4 149.7 67.5 151.2 73.7 152.7C79.8 154.1 86.0 155.4 92.1 156.7C98.2 157.9 104.4 159.1 110.5 160.2C116.7 161.3 122.8 162.3 128.9 163.2C135.1 164.1 141.2 165.0 147.4 165.8C153.5 166.5 159.6 167.2 165.8 167.9C171.9 168.5 178.1 169.1 184.2 169.7M0.0 142.0C6.1 144.0 12.3 146.1 18.4 148.0C24.6 149.9 30.7 151.7 36.8 153.4C43.0 155.1 49.1 156.8 55.3 158.4C61.4 159.9 67.5 161.4 73.7 162.8C79.8 164.2 86.0 165.5 92.1 166.8C98.2 168.0 104.4 169.2 110.5 170.3C116.7 171.4 122.8 172.4 128.9 173.3C135.1 174.2 141.2 175.1 147.4 175.8C153.5 176.6 159.6 177.3 165.8 177.9C171.9 178.5 178.1 178.9 184.2 179.5M0.0 153.5C6.1 155.7 12.3 158.0 18.4 160.0C24.6 162.0 30.7 163.9 36.8 165.7C43.0 167.4 49.1 169.1 55.3 170.6C61.4 172.2 67.5 173.6 73.7 174.9C79.8 176.3 86.0 177.5 92.1 178.6C98.2 179.8 104.4 180.8 110.5 181.8C116.7 182.7 122.8 183.6 128.9 184.4C135.1 185.2 141.2 185.9 147.4 186.5C153.5 187.2 159.6 187.8 165.8 188.3C171.9 188.8 178.1 189.2 184.2 189.6" stroke="#f6d3c6" stroke-opacity="0.55" stroke-width="3.6" fill="none"/><path d="M0.0 52.1C6.1 54.7 12.3 57.5 18.4 59.9C24.6 62.4 30.7 64.6 36.8 66.7C43.0 68.7 49.1 70.6 55.3 72.4C61.4 74.2 67.5 75.8 73.7 77.3C79.8 78.8 86.0 80.2 92.1 81.5C98.2 82.8 104.4 84.0 110.5 85.2C116.7 86.3 122.8 87.4 128.9 88.5C135.1 89.6 141.2 90.6 147.4 91.6C153.5 92.6 159.6 93.6 165.8 94.6C171.9 95.6 178.1 96.7 184.2 97.7M0.0 60.0C6.1 62.6 12.3 65.3 18.4 67.7C24.6 70.0 30.7 72.2 36.8 74.3C43.0 76.4 49.1 78.3 55.3 80.1C61.4 81.9 67.5 83.6 73.7 85.1C79.8 86.7 86.0 88.1 92.1 89.5C98.2 90.9 104.4 92.1 110.5 93.3C116.7 94.5 122.8 95.6 128.9 96.7C135.1 97.8 141.2 98.7 147.4 99.7C153.5 100.7 159.6 101.6 165.8 102.5C171.9 103.4 178.1 104.3 184.2 105.2M0.0 70.4C6.1 72.8 12.3 75.4 18.4 77.6C24.6 79.9 30.7 82.0 36.8 84.1C43.0 86.1 49.1 87.9 55.3 89.7C61.4 91.5 67.5 93.1 73.7 94.7C79.8 96.2 86.0 97.6 92.1 99.0C98.2 100.3 104.4 101.6 110.5 102.8C116.7 103.9 122.8 105.0 128.9 106.0C135.1 107.1 141.2 108.0 147.4 108.9C153.5 109.8 159.6 110.6 165.8 111.4C171.9 112.2 178.1 112.9 184.2 113.6M0.0 77.8C6.1 80.1 12.3 82.5 18.4 84.7C24.6 86.9 30.7 88.9 36.8 90.9C43.0 92.8 49.1 94.7 55.3 96.4C61.4 98.1 67.5 99.8 73.7 101.3C79.8 102.9 86.0 104.4 92.1 105.7C98.2 107.1 104.4 108.4 110.5 109.6C116.7 110.8 122.8 111.9 128.9 113.0C135.1 114.1 141.2 115.1 147.4 116.0C153.5 116.9 159.6 117.8 165.8 118.6C171.9 119.4 178.1 120.0 184.2 120.8M0.0 85.6C6.1 87.8 12.3 90.1 18.4 92.3C24.6 94.4 30.7 96.5 36.8 98.4C43.0 100.4 49.1 102.2 55.3 104.0C61.4 105.7 67.5 107.4 73.7 108.9C79.8 110.5 86.0 112.0 92.1 113.4C98.2 114.8 104.4 116.1 110.5 117.3C116.7 118.5 122.8 119.7 128.9 120.8C135.1 121.8 141.2 122.8 147.4 123.8C153.5 124.7 159.6 125.6 165.8 126.3C171.9 127.1 178.1 127.8 184.2 128.5M0.0 99.3C6.1 101.6 12.3 104.0 18.4 106.2C24.6 108.4 30.7 110.4 36.8 112.3C43.0 114.2 49.1 116.0 55.3 117.7C61.4 119.3 67.5 120.9 73.7 122.4C79.8 123.8 86.0 125.2 92.1 126.5C98.2 127.7 104.4 128.9 110.5 130.0C116.7 131.2 122.8 132.2 128.9 133.2C135.1 134.2 141.2 135.1 147.4 136.0C153.5 136.8 159.6 137.7 165.8 138.5C171.9 139.3 178.1 140.0 184.2 140.7M0.0 117.0C6.1 119.2 12.3 121.4 18.4 123.5C24.6 125.6 30.7 127.5 36.8 129.4C43.0 131.2 49.1 133.0 55.3 134.6C61.4 136.3 67.5 137.9 73.7 139.3C79.8 140.8 86.0 142.2 92.1 143.5C98.2 144.8 104.4 146.0 110.5 147.2C116.7 148.3 122.8 149.3 128.9 150.3C135.1 151.3 141.2 152.2 147.4 153.0C153.5 153.9 159.6 154.6 165.8 155.3C171.9 156.0 178.1 156.6 184.2 157.2M0.0 131.0C6.1 133.1 12.3 135.3 18.4 137.3C24.6 139.3 30.7 141.2 36.8 143.0C43.0 144.8 49.1 146.5 55.3 148.1C61.4 149.7 67.5 151.2 73.7 152.7C79.8 154.1 86.0 155.4 92.1 156.7C98.2 157.9 104.4 159.1 110.5 160.2C116.7 161.3 122.8 162.3 128.9 163.2C135.1 164.1 141.2 165.0 147.4 165.8C153.5 166.5 159.6 167.2 165.8 167.9C171.9 168.5 178.1 169.1 184.2 169.7M0.0 142.0C6.1 144.0 12.3 146.1 18.4 148.0C24.6 149.9 30.7 151.7 36.8 153.4C43.0 155.1 49.1 156.8 55.3 158.4C61.4 159.9 67.5 161.4 73.7 162.8C79.8 164.2 86.0 165.5 92.1 166.8C98.2 168.0 104.4 169.2 110.5 170.3C116.7 171.4 122.8 172.4 128.9 173.3C135.1 174.2 141.2 175.1 147.4 175.8C153.5 176.6 159.6 177.3 165.8 177.9C171.9 178.5 178.1 178.9 184.2 179.5M0.0 153.5C6.1 155.7 12.3 158.0 18.4 160.0C24.6 162.0 30.7 163.9 36.8 165.7C43.0 167.4 49.1 169.1 55.3 170.6C61.4 172.2 67.5 173.6 73.7 174.9C79.8 176.3 86.0 177.5 92.1 178.6C98.2 179.8 104.4 180.8 110.5 181.8C116.7 182.7 122.8 183.6 128.9 184.4C135.1 185.2 141.2 185.9 147.4 186.5C153.5 187.2 159.6 187.8 165.8 188.3C171.9 188.8 178.1 189.2 184.2 189.6" stroke="#151313" stroke-width="1.75" fill="none"/></g></svg>
<div class="t" style="left:425.50px;top:354.93px;font-size:9.50px;color:#2a2626;letter-spacing:0.30px;">输入转速 1000r/min</div>
<div class="t sm" style="left:645.70px;top:373.80px;font-size:6.80px;transform:translateX(-100%);color:#4f4b4b;">图4-2</div>
<div class="t" style="left:458.70px;top:378.80px;font-size:8.70px;transform:translateX(-100%);color:#4f4a4a;">10000</div>
<div class="t" style="left:458.70px;top:430.36px;font-size:8.70px;transform:translateX(-100%);color:#4f4a4a;">1000</div>
<div class="t" style="left:458.70px;top:481.92px;font-size:8.70px;transform:translateX(-100%);color:#4f4a4a;">100</div>
<div class="t" style="left:458.70px;top:533.48px;font-size:8.70px;transform:translateX(-100%);color:#4f4a4a;">10</div>
<div class="t" style="left:458.70px;top:585.04px;font-size:8.70px;transform:translateX(-100%);color:#4f4a4a;">1</div>
<div class="t" style="left:458.70px;top:636.60px;font-size:8.70px;transform:translateX(-100%);color:#4f4a4a;">0.1</div>
<div class="t" style="left:463.70px;top:643.60px;font-size:8.70px;transform:translateX(-50%);color:#4f4a4a;">-10</div>
<div class="t" style="left:499.04px;top:643.60px;font-size:8.70px;transform:translateX(-50%);color:#4f4a4a;">0</div>
<div class="t" style="left:536.48px;top:643.60px;font-size:8.70px;transform:translateX(-50%);color:#4f4a4a;">10</div>
<div class="t" style="left:573.32px;top:643.60px;font-size:8.70px;transform:translateX(-50%);color:#4f4a4a;">20</div>
<div class="t" style="left:610.16px;top:643.60px;font-size:8.70px;transform:translateX(-50%);color:#4f4a4a;">30</div>
<div class="t" style="left:647.00px;top:643.60px;font-size:8.70px;transform:translateX(-50%);color:#4f4a4a;">40</div>
<div class="t" style="left:552.40px;top:659.30px;font-size:8.70px;transform:translateX(-50%);color:#4f4b4b;">温度（℃）</div>
<div class="t sm" style="left:646.70px;top:475.58px;font-size:7.30px;color:#4f4b4b;">65</div>
<div class="t sm" style="left:646.70px;top:483.07px;font-size:7.30px;color:#4f4b4b;">58</div>
<div class="t sm" style="left:646.70px;top:491.48px;font-size:7.30px;color:#4f4b4b;">50</div>
<div class="t sm" style="left:646.70px;top:498.66px;font-size:7.30px;color:#4f4b4b;">45</div>
<div class="t sm" style="left:646.70px;top:506.39px;font-size:7.30px;color:#4f4b4b;">40</div>
<div class="t sm" style="left:646.70px;top:518.62px;font-size:7.30px;color:#4f4b4b;">32</div>
<div class="t sm" style="left:646.70px;top:535.09px;font-size:7.30px;color:#4f4b4b;">25</div>
<div class="t sm" style="left:646.70px;top:547.53px;font-size:7.30px;color:#4f4b4b;">20</div>
<div class="t sm" style="left:646.70px;top:557.35px;font-size:7.30px;color:#4f4b4b;">17</div>
<div class="t sm" style="left:646.70px;top:567.50px;font-size:7.30px;color:#4f4b4b;">14</div>
<div class="t" style="left:422.50px;top:501.50px;font-size:8.5px;color:#4f4b4b;transform:translate(-50%,-50%) rotate(-90deg);">无负载运行转矩（<span style="font-size:8.9px;letter-spacing:0.3px">cNm</span>）</div>
<div class="t" style="left:669.30px;top:507.10px;font-size:8.5px;color:#4f4b4b;transform:translate(-50%,-50%) rotate(-90deg);">型号</div>
<svg class="b" style="left:121px;top:723px" width="188" height="263" viewBox="0 0 188 263"><g transform="translate(1.20 2.30)"><rect x="0" y="0" width="184.8" height="257.8" fill="#edbaa9"/><path d="M0 242.28H184.8M0 233.20H184.8M0 226.76H184.8M0 221.76H184.8M0 217.68H184.8M0 214.23H184.8M0 211.24H184.8M0 208.60H184.8M0 206.24H184.8M0 190.72H184.8M0 181.64H184.8M0 175.20H184.8M0 170.20H184.8M0 166.12H184.8M0 162.67H184.8M0 159.68H184.8M0 157.04H184.8M0 154.68H184.8M0 139.16H184.8M0 130.08H184.8M0 123.64H184.8M0 118.64H184.8M0 114.56H184.8M0 111.11H184.8M0 108.12H184.8M0 105.48H184.8M0 103.12H184.8M0 87.60H184.8M0 78.52H184.8M0 72.08H184.8M0 67.08H184.8M0 63.00H184.8M0 59.55H184.8M0 56.56H184.8M0 53.92H184.8M0 51.56H184.8M0 36.04H184.8M0 26.96H184.8M0 20.52H184.8M0 15.52H184.8M0 11.44H184.8M0 7.99H184.8M0 5.00H184.8M0 2.36H184.8M0 0.3H184.8" stroke="#7c5a52" stroke-width="1" fill="none"/><path d="M37.10 0V257.8M74.10 0V257.8M111.10 0V257.8M148.10 0V257.8" stroke="#5c4541" stroke-width="1.05" fill="none"/><path d="M0.0 42.9C6.2 45.4 12.3 47.9 18.5 50.2C24.6 52.4 30.8 54.6 37.0 56.6C43.1 58.6 49.3 60.5 55.4 62.3C61.6 64.1 67.8 65.8 73.9 67.4C80.1 69.0 86.2 70.6 92.4 72.0C98.6 73.5 104.7 74.8 110.9 76.1C117.0 77.5 123.2 78.7 129.4 79.9C135.5 81.1 141.7 82.3 147.8 83.4C154.0 84.5 160.2 85.6 166.3 86.7C172.5 87.8 178.6 88.8 184.8 89.9M0.0 50.5C6.2 53.0 12.3 55.5 18.5 57.8C24.6 60.1 30.8 62.3 37.0 64.4C43.1 66.5 49.3 68.4 55.4 70.3C61.6 72.2 67.8 74.0 73.9 75.7C80.1 77.4 86.2 78.9 92.4 80.5C98.6 82.0 104.7 83.4 110.9 84.8C117.0 86.1 123.2 87.4 129.4 88.7C135.5 89.9 141.7 91.1 147.8 92.2C154.0 93.3 160.2 94.4 166.3 95.4C172.5 96.4 178.6 97.4 184.8 98.3M0.0 60.4C6.2 62.9 12.3 65.5 18.5 67.8C24.6 70.2 30.8 72.4 37.0 74.4C43.1 76.5 49.3 78.5 55.4 80.3C61.6 82.2 67.8 83.9 73.9 85.6C80.1 87.2 86.2 88.7 92.4 90.2C98.6 91.7 104.7 93.0 110.9 94.3C117.0 95.6 123.2 96.8 129.4 98.0C135.5 99.2 141.7 100.3 147.8 101.4C154.0 102.4 160.2 103.4 166.3 104.4C172.5 105.4 178.6 106.3 184.8 107.3M0.0 67.6C6.2 70.0 12.3 72.5 18.5 74.8C24.6 77.1 30.8 79.3 37.0 81.3C43.1 83.4 49.3 85.3 55.4 87.2C61.6 89.0 67.8 90.8 73.9 92.5C80.1 94.1 86.2 95.7 92.4 97.2C98.6 98.6 104.7 100.0 110.9 101.3C117.0 102.7 123.2 103.9 129.4 105.1C135.5 106.2 141.7 107.3 147.8 108.4C154.0 109.4 160.2 110.4 166.3 111.3C172.5 112.2 178.6 113.1 184.8 113.9M0.0 75.4C6.2 77.9 12.3 80.5 18.5 82.8C24.6 85.1 30.8 87.3 37.0 89.3C43.1 91.4 49.3 93.3 55.4 95.1C61.6 96.9 67.8 98.6 73.9 100.2C80.1 101.8 86.2 103.3 92.4 104.7C98.6 106.1 104.7 107.4 110.9 108.7C117.0 110.0 123.2 111.2 129.4 112.4C135.5 113.5 141.7 114.6 147.8 115.7C154.0 116.8 160.2 117.9 166.3 118.9C172.5 119.9 178.6 120.9 184.8 122.0M0.0 89.1C6.2 91.6 12.3 94.3 18.5 96.7C24.6 99.0 30.8 101.2 37.0 103.2C43.1 105.3 49.3 107.2 55.4 109.0C61.6 110.8 67.8 112.4 73.9 114.0C80.1 115.6 86.2 117.1 92.4 118.5C98.6 119.8 104.7 121.1 110.9 122.4C117.0 123.6 123.2 124.8 129.4 126.0C135.5 127.1 141.7 128.2 147.8 129.2C154.0 130.3 160.2 131.3 166.3 132.4C172.5 133.4 178.6 134.4 184.8 135.5M0.0 106.8C6.2 109.1 12.3 111.6 18.5 113.8C24.6 116.0 30.8 118.1 37.0 120.1C43.1 122.1 49.3 123.9 55.4 125.7C61.6 127.5 67.8 129.2 73.9 130.8C80.1 132.4 86.2 133.9 92.4 135.3C98.6 136.7 104.7 138.1 110.9 139.3C117.0 140.6 123.2 141.8 129.4 142.9C135.5 144.1 141.7 145.1 147.8 146.1C154.0 147.2 160.2 148.1 166.3 149.0C172.5 149.9 178.6 150.7 184.8 151.6M0.0 121.3C6.2 123.6 12.3 126.0 18.5 128.2C24.6 130.3 30.8 132.3 37.0 134.2C43.1 136.2 49.3 138.0 55.4 139.7C61.6 141.4 67.8 143.0 73.9 144.5C80.1 146.0 86.2 147.5 92.4 148.8C98.6 150.2 104.7 151.5 110.9 152.7C117.0 153.9 123.2 155.1 129.4 156.2C135.5 157.3 141.7 158.3 147.8 159.3C154.0 160.3 160.2 161.3 166.3 162.2C172.5 163.1 178.6 164.0 184.8 164.9M0.0 132.3C6.2 134.5 12.3 136.8 18.5 138.9C24.6 141.0 30.8 142.9 37.0 144.8C43.1 146.7 49.3 148.5 55.4 150.2C61.6 152.0 67.8 153.6 73.9 155.1C80.1 156.7 86.2 158.1 92.4 159.5C98.6 160.9 104.7 162.2 110.9 163.4C117.0 164.6 123.2 165.7 129.4 166.8C135.5 167.9 141.7 168.9 147.8 169.8C154.0 170.7 160.2 171.6 166.3 172.4C172.5 173.1 178.6 173.8 184.8 174.5M0.0 143.9C6.2 146.1 12.3 148.4 18.5 150.5C24.6 152.7 30.8 154.7 37.0 156.6C43.1 158.5 49.3 160.4 55.4 162.1C61.6 163.9 67.8 165.5 73.9 167.1C80.1 168.6 86.2 170.1 92.4 171.5C98.6 172.8 104.7 174.1 110.9 175.3C117.0 176.5 123.2 177.6 129.4 178.6C135.5 179.6 141.7 180.5 147.8 181.3C154.0 182.1 160.2 182.8 166.3 183.5C172.5 184.1 178.6 184.6 184.8 185.1" stroke="#f6d3c6" stroke-opacity="0.55" stroke-width="3.6" fill="none"/><path d="M0.0 42.9C6.2 45.4 12.3 47.9 18.5 50.2C24.6 52.4 30.8 54.6 37.0 56.6C43.1 58.6 49.3 60.5 55.4 62.3C61.6 64.1 67.8 65.8 73.9 67.4C80.1 69.0 86.2 70.6 92.4 72.0C98.6 73.5 104.7 74.8 110.9 76.1C117.0 77.5 123.2 78.7 129.4 79.9C135.5 81.1 141.7 82.3 147.8 83.4C154.0 84.5 160.2 85.6 166.3 86.7C172.5 87.8 178.6 88.8 184.8 89.9M0.0 50.5C6.2 53.0 12.3 55.5 18.5 57.8C24.6 60.1 30.8 62.3 37.0 64.4C43.1 66.5 49.3 68.4 55.4 70.3C61.6 72.2 67.8 74.0 73.9 75.7C80.1 77.4 86.2 78.9 92.4 80.5C98.6 82.0 104.7 83.4 110.9 84.8C117.0 86.1 123.2 87.4 129.4 88.7C135.5 89.9 141.7 91.1 147.8 92.2C154.0 93.3 160.2 94.4 166.3 95.4C172.5 96.4 178.6 97.4 184.8 98.3M0.0 60.4C6.2 62.9 12.3 65.5 18.5 67.8C24.6 70.2 30.8 72.4 37.0 74.4C43.1 76.5 49.3 78.5 55.4 80.3C61.6 82.2 67.8 83.9 73.9 85.6C80.1 87.2 86.2 88.7 92.4 90.2C98.6 91.7 104.7 93.0 110.9 94.3C117.0 95.6 123.2 96.8 129.4 98.0C135.5 99.2 141.7 100.3 147.8 101.4C154.0 102.4 160.2 103.4 166.3 104.4C172.5 105.4 178.6 106.3 184.8 107.3M0.0 67.6C6.2 70.0 12.3 72.5 18.5 74.8C24.6 77.1 30.8 79.3 37.0 81.3C43.1 83.4 49.3 85.3 55.4 87.2C61.6 89.0 67.8 90.8 73.9 92.5C80.1 94.1 86.2 95.7 92.4 97.2C98.6 98.6 104.7 100.0 110.9 101.3C117.0 102.7 123.2 103.9 129.4 105.1C135.5 106.2 141.7 107.3 147.8 108.4C154.0 109.4 160.2 110.4 166.3 111.3C172.5 112.2 178.6 113.1 184.8 113.9M0.0 75.4C6.2 77.9 12.3 80.5 18.5 82.8C24.6 85.1 30.8 87.3 37.0 89.3C43.1 91.4 49.3 93.3 55.4 95.1C61.6 96.9 67.8 98.6 73.9 100.2C80.1 101.8 86.2 103.3 92.4 104.7C98.6 106.1 104.7 107.4 110.9 108.7C117.0 110.0 123.2 111.2 129.4 112.4C135.5 113.5 141.7 114.6 147.8 115.7C154.0 116.8 160.2 117.9 166.3 118.9C172.5 119.9 178.6 120.9 184.8 122.0M0.0 89.1C6.2 91.6 12.3 94.3 18.5 96.7C24.6 99.0 30.8 101.2 37.0 103.2C43.1 105.3 49.3 107.2 55.4 109.0C61.6 110.8 67.8 112.4 73.9 114.0C80.1 115.6 86.2 117.1 92.4 118.5C98.6 119.8 104.7 121.1 110.9 122.4C117.0 123.6 123.2 124.8 129.4 126.0C135.5 127.1 141.7 128.2 147.8 129.2C154.0 130.3 160.2 131.3 166.3 132.4C172.5 133.4 178.6 134.4 184.8 135.5M0.0 106.8C6.2 109.1 12.3 111.6 18.5 113.8C24.6 116.0 30.8 118.1 37.0 120.1C43.1 122.1 49.3 123.9 55.4 125.7C61.6 127.5 67.8 129.2 73.9 130.8C80.1 132.4 86.2 133.9 92.4 135.3C98.6 136.7 104.7 138.1 110.9 139.3C117.0 140.6 123.2 141.8 129.4 142.9C135.5 144.1 141.7 145.1 147.8 146.1C154.0 147.2 160.2 148.1 166.3 149.0C172.5 149.9 178.6 150.7 184.8 151.6M0.0 121.3C6.2 123.6 12.3 126.0 18.5 128.2C24.6 130.3 30.8 132.3 37.0 134.2C43.1 136.2 49.3 138.0 55.4 139.7C61.6 141.4 67.8 143.0 73.9 144.5C80.1 146.0 86.2 147.5 92.4 148.8C98.6 150.2 104.7 151.5 110.9 152.7C117.0 153.9 123.2 155.1 129.4 156.2C135.5 157.3 141.7 158.3 147.8 159.3C154.0 160.3 160.2 161.3 166.3 162.2C172.5 163.1 178.6 164.0 184.8 164.9M0.0 132.3C6.2 134.5 12.3 136.8 18.5 138.9C24.6 141.0 30.8 142.9 37.0 144.8C43.1 146.7 49.3 148.5 55.4 150.2C61.6 152.0 67.8 153.6 73.9 155.1C80.1 156.7 86.2 158.1 92.4 159.5C98.6 160.9 104.7 162.2 110.9 163.4C117.0 164.6 123.2 165.7 129.4 166.8C135.5 167.9 141.7 168.9 147.8 169.8C154.0 170.7 160.2 171.6 166.3 172.4C172.5 173.1 178.6 173.8 184.8 174.5M0.0 143.9C6.2 146.1 12.3 148.4 18.5 150.5C24.6 152.7 30.8 154.7 37.0 156.6C43.1 158.5 49.3 160.4 55.4 162.1C61.6 163.9 67.8 165.5 73.9 167.1C80.1 168.6 86.2 170.1 92.4 171.5C98.6 172.8 104.7 174.1 110.9 175.3C117.0 176.5 123.2 177.6 129.4 178.6C135.5 179.6 141.7 180.5 147.8 181.3C154.0 182.1 160.2 182.8 166.3 183.5C172.5 184.1 178.6 184.6 184.8 185.1" stroke="#151313" stroke-width="1.75" fill="none"/></g></svg>
<div class="t" style="left:86.80px;top:697.72px;font-size:9.50px;color:#2a2626;letter-spacing:0.30px;">输入转速 2000r/min</div>
<div class="t sm" style="left:307.60px;top:716.60px;font-size:6.80px;transform:translateX(-100%);color:#4f4b4b;">图4-3</div>
<div class="t" style="left:120.00px;top:721.60px;font-size:8.70px;transform:translateX(-100%);color:#4f4a4a;">10000</div>
<div class="t" style="left:120.00px;top:773.16px;font-size:8.70px;transform:translateX(-100%);color:#4f4a4a;">1000</div>
<div class="t" style="left:120.00px;top:824.72px;font-size:8.70px;transform:translateX(-100%);color:#4f4a4a;">100</div>
<div class="t" style="left:120.00px;top:876.28px;font-size:8.70px;transform:translateX(-100%);color:#4f4a4a;">10</div>
<div class="t" style="left:120.00px;top:927.84px;font-size:8.70px;transform:translateX(-100%);color:#4f4a4a;">1</div>
<div class="t" style="left:120.00px;top:979.40px;font-size:8.70px;transform:translateX(-100%);color:#4f4a4a;">0.1</div>
<div class="t" style="left:125.00px;top:986.40px;font-size:8.70px;transform:translateX(-50%);color:#4f4a4a;">-10</div>
<div class="t" style="left:160.46px;top:986.40px;font-size:8.70px;transform:translateX(-50%);color:#4f4a4a;">0</div>
<div class="t" style="left:198.02px;top:986.40px;font-size:8.70px;transform:translateX(-50%);color:#4f4a4a;">10</div>
<div class="t" style="left:234.98px;top:986.40px;font-size:8.70px;transform:translateX(-50%);color:#4f4a4a;">20</div>
<div class="t" style="left:271.94px;top:986.40px;font-size:8.70px;transform:translateX(-50%);color:#4f4a4a;">30</div>
<div class="t" style="left:308.90px;top:986.40px;font-size:8.70px;transform:translateX(-50%);color:#4f4a4a;">40</div>
<div class="t" style="left:214.00px;top:1002.10px;font-size:8.70px;transform:translateX(-50%);color:#4f4b4b;">温度（℃）</div>
<div class="t sm" style="left:308.60px;top:810.56px;font-size:7.30px;color:#4f4b4b;">65</div>
<div class="t sm" style="left:308.60px;top:819.01px;font-size:7.30px;color:#4f4b4b;">58</div>
<div class="t sm" style="left:308.60px;top:827.93px;font-size:7.30px;color:#4f4b4b;">50</div>
<div class="t sm" style="left:308.60px;top:834.62px;font-size:7.30px;color:#4f4b4b;">45</div>
<div class="t sm" style="left:308.60px;top:842.64px;font-size:7.30px;color:#4f4b4b;">40</div>
<div class="t sm" style="left:308.60px;top:856.15px;font-size:7.30px;color:#4f4b4b;">32</div>
<div class="t sm" style="left:308.60px;top:872.29px;font-size:7.30px;color:#4f4b4b;">25</div>
<div class="t sm" style="left:308.60px;top:885.58px;font-size:7.30px;color:#4f4b4b;">20</div>
<div class="t sm" style="left:308.60px;top:895.19px;font-size:7.30px;color:#4f4b4b;">17</div>
<div class="t sm" style="left:308.60px;top:905.79px;font-size:7.30px;color:#4f4b4b;">14</div>
<div class="t" style="left:83.80px;top:844.30px;font-size:8.5px;color:#4f4b4b;transform:translate(-50%,-50%) rotate(-90deg);">无负载运行转矩（<span style="font-size:8.9px;letter-spacing:0.3px">cNm</span>）</div>
<div class="t" style="left:331.20px;top:849.90px;font-size:8.5px;color:#4f4b4b;transform:translate(-50%,-50%) rotate(-90deg);">型号</div>
<svg class="b" style="left:459px;top:723px" width="188" height="263" viewBox="0 0 188 263"><g transform="translate(1.40 2.30)"><rect x="0" y="0" width="184.5" height="257.8" fill="#edbaa9"/><path d="M0 242.28H184.5M0 233.20H184.5M0 226.76H184.5M0 221.76H184.5M0 217.68H184.5M0 214.23H184.5M0 211.24H184.5M0 208.60H184.5M0 206.24H184.5M0 190.72H184.5M0 181.64H184.5M0 175.20H184.5M0 170.20H184.5M0 166.12H184.5M0 162.67H184.5M0 159.68H184.5M0 157.04H184.5M0 154.68H184.5M0 139.16H184.5M0 130.08H184.5M0 123.64H184.5M0 118.64H184.5M0 114.56H184.5M0 111.11H184.5M0 108.12H184.5M0 105.48H184.5M0 103.12H184.5M0 87.60H184.5M0 78.52H184.5M0 72.08H184.5M0 67.08H184.5M0 63.00H184.5M0 59.55H184.5M0 56.56H184.5M0 53.92H184.5M0 51.56H184.5M0 36.04H184.5M0 26.96H184.5M0 20.52H184.5M0 15.52H184.5M0 11.44H184.5M0 7.99H184.5M0 5.00H184.5M0 2.36H184.5M0 0.3H184.5" stroke="#7c5a52" stroke-width="1" fill="none"/><path d="M36.50 0V257.8M73.50 0V257.8M110.50 0V257.8M147.50 0V257.8" stroke="#5c4541" stroke-width="1.05" fill="none"/><path d="M0.0 33.9C6.1 36.4 12.3 39.1 18.4 41.5C24.6 43.9 30.7 46.1 36.9 48.3C43.0 50.4 49.2 52.4 55.4 54.3C61.5 56.2 67.6 58.0 73.8 59.8C80.0 61.5 86.1 63.1 92.2 64.6C98.4 66.2 104.5 67.6 110.7 69.0C116.9 70.4 123.0 71.8 129.2 73.0C135.3 74.3 141.4 75.5 147.6 76.7C153.8 77.9 159.9 79.1 166.1 80.2C172.2 81.4 178.3 82.5 184.5 83.6M0.0 41.6C6.1 44.1 12.3 46.7 18.4 49.1C24.6 51.5 30.7 53.7 36.9 55.9C43.0 58.1 49.2 60.2 55.4 62.1C61.5 64.1 67.6 66.0 73.8 67.7C80.0 69.5 86.1 71.2 92.2 72.8C98.4 74.4 104.5 75.9 110.7 77.4C116.9 78.8 123.0 80.1 129.2 81.4C135.3 82.7 141.4 83.9 147.6 85.0C153.8 86.1 159.9 87.2 166.1 88.2C172.2 89.2 178.3 90.0 184.5 90.9M0.0 51.8C6.1 54.2 12.3 56.7 18.4 59.0C24.6 61.3 30.7 63.6 36.9 65.7C43.0 67.9 49.2 69.9 55.4 71.9C61.5 73.8 67.6 75.7 73.8 77.5C80.0 79.2 86.1 80.9 92.2 82.6C98.4 84.2 104.5 85.7 110.7 87.1C116.9 88.6 123.0 89.9 129.2 91.2C135.3 92.5 141.4 93.7 147.6 94.8C153.8 96.0 159.9 97.0 166.1 98.0C172.2 99.0 178.3 99.8 184.5 100.7M0.0 58.9C6.1 61.2 12.3 63.6 18.4 65.9C24.6 68.2 30.7 70.4 36.9 72.5C43.0 74.6 49.2 76.7 55.4 78.7C61.5 80.6 67.6 82.5 73.8 84.3C80.0 86.1 86.1 87.9 92.2 89.5C98.4 91.2 104.5 92.7 110.7 94.2C116.9 95.7 123.0 97.1 129.2 98.4C135.3 99.7 141.4 100.9 147.6 102.1C153.8 103.2 159.9 104.3 166.1 105.3C172.2 106.2 178.3 107.0 184.5 107.9M0.0 67.0C6.1 69.3 12.3 71.7 18.4 73.9C24.6 76.1 30.7 78.3 36.9 80.4C43.0 82.5 49.2 84.5 55.4 86.5C61.5 88.5 67.6 90.4 73.8 92.2C80.0 94.0 86.1 95.8 92.2 97.4C98.4 99.1 104.5 100.7 110.7 102.1C116.9 103.6 123.0 105.0 129.2 106.3C135.3 107.6 141.4 108.8 147.6 109.9C153.8 111.0 159.9 112.0 166.1 112.9C172.2 113.7 178.3 114.4 184.5 115.1M0.0 80.5C6.1 82.9 12.3 85.4 18.4 87.7C24.6 90.0 30.7 92.2 36.9 94.3C43.0 96.4 49.2 98.5 55.4 100.4C61.5 102.3 67.6 104.2 73.8 106.0C80.0 107.7 86.1 109.4 92.2 111.0C98.4 112.6 104.5 114.1 110.7 115.5C116.9 116.9 123.0 118.2 129.2 119.4C135.3 120.7 141.4 121.8 147.6 122.9C153.8 124.0 159.9 125.0 166.1 125.9C172.2 126.8 178.3 127.5 184.5 128.4M0.0 98.5C6.1 100.7 12.3 103.1 18.4 105.3C24.6 107.6 30.7 109.7 36.9 111.8C43.0 113.8 49.2 115.8 55.4 117.7C61.5 119.7 67.6 121.5 73.8 123.3C80.0 125.0 86.1 126.7 92.2 128.3C98.4 129.8 104.5 131.4 110.7 132.8C116.9 134.2 123.0 135.5 129.2 136.7C135.3 138.0 141.4 139.1 147.6 140.2C153.8 141.2 159.9 142.2 166.1 143.0C172.2 143.9 178.3 144.5 184.5 145.3M0.0 112.7C6.1 115.0 12.3 117.4 18.4 119.7C24.6 121.9 30.7 124.0 36.9 126.0C43.0 128.1 49.2 130.0 55.4 131.8C61.5 133.7 67.6 135.5 73.8 137.1C80.0 138.8 86.1 140.4 92.2 141.9C98.4 143.4 104.5 144.8 110.7 146.2C116.9 147.5 123.0 148.8 129.2 150.0C135.3 151.2 141.4 152.3 147.6 153.4C153.8 154.4 159.9 155.4 166.1 156.3C172.2 157.2 178.3 158.0 184.5 158.8M0.0 123.7C6.1 125.9 12.3 128.2 18.4 130.3C24.6 132.4 30.7 134.5 36.9 136.5C43.0 138.5 49.2 140.5 55.4 142.3C61.5 144.2 67.6 146.0 73.8 147.7C80.0 149.4 86.1 151.0 92.2 152.6C98.4 154.1 104.5 155.6 110.7 157.0C116.9 158.4 123.0 159.7 129.2 160.9C135.3 162.1 141.4 163.2 147.6 164.2C153.8 165.2 159.9 166.1 166.1 166.9C172.2 167.8 178.3 168.4 184.5 169.1M0.0 135.7C6.1 137.9 12.3 140.2 18.4 142.4C24.6 144.6 30.7 146.7 36.9 148.7C43.0 150.7 49.2 152.7 55.4 154.6C61.5 156.5 67.6 158.3 73.8 160.0C80.0 161.8 86.1 163.4 92.2 164.9C98.4 166.5 104.5 168.0 110.7 169.3C116.9 170.7 123.0 171.9 129.2 173.1C135.3 174.2 141.4 175.3 147.6 176.2C153.8 177.2 159.9 178.0 166.1 178.7C172.2 179.4 178.3 179.9 184.5 180.4" stroke="#f6d3c6" stroke-opacity="0.55" stroke-width="3.6" fill="none"/><path d="M0.0 33.9C6.1 36.4 12.3 39.1 18.4 41.5C24.6 43.9 30.7 46.1 36.9 48.3C43.0 50.4 49.2 52.4 55.4 54.3C61.5 56.2 67.6 58.0 73.8 59.8C80.0 61.5 86.1 63.1 92.2 64.6C98.4 66.2 104.5 67.6 110.7 69.0C116.9 70.4 123.0 71.8 129.2 73.0C135.3 74.3 141.4 75.5 147.6 76.7C153.8 77.9 159.9 79.1 166.1 80.2C172.2 81.4 178.3 82.5 184.5 83.6M0.0 41.6C6.1 44.1 12.3 46.7 18.4 49.1C24.6 51.5 30.7 53.7 36.9 55.9C43.0 58.1 49.2 60.2 55.4 62.1C61.5 64.1 67.6 66.0 73.8 67.7C80.0 69.5 86.1 71.2 92.2 72.8C98.4 74.4 104.5 75.9 110.7 77.4C116.9 78.8 123.0 80.1 129.2 81.4C135.3 82.7 141.4 83.9 147.6 85.0C153.8 86.1 159.9 87.2 166.1 88.2C172.2 89.2 178.3 90.0 184.5 90.9M0.0 51.8C6.1 54.2 12.3 56.7 18.4 59.0C24.6 61.3 30.7 63.6 36.9 65.7C43.0 67.9 49.2 69.9 55.4 71.9C61.5 73.8 67.6 75.7 73.8 77.5C80.0 79.2 86.1 80.9 92.2 82.6C98.4 84.2 104.5 85.7 110.7 87.1C116.9 88.6 123.0 89.9 129.2 91.2C135.3 92.5 141.4 93.7 147.6 94.8C153.8 96.0 159.9 97.0 166.1 98.0C172.2 99.0 178.3 99.8 184.5 100.7M0.0 58.9C6.1 61.2 12.3 63.6 18.4 65.9C24.6 68.2 30.7 70.4 36.9 72.5C43.0 74.6 49.2 76.7 55.4 78.7C61.5 80.6 67.6 82.5 73.8 84.3C80.0 86.1 86.1 87.9 92.2 89.5C98.4 91.2 104.5 92.7 110.7 94.2C116.9 95.7 123.0 97.1 129.2 98.4C135.3 99.7 141.4 100.9 147.6 102.1C153.8 103.2 159.9 104.3 166.1 105.3C172.2 106.2 178.3 107.0 184.5 107.9M0.0 67.0C6.1 69.3 12.3 71.7 18.4 73.9C24.6 76.1 30.7 78.3 36.9 80.4C43.0 82.5 49.2 84.5 55.4 86.5C61.5 88.5 67.6 90.4 73.8 92.2C80.0 94.0 86.1 95.8 92.2 97.4C98.4 99.1 104.5 100.7 110.7 102.1C116.9 103.6 123.0 105.0 129.2 106.3C135.3 107.6 141.4 108.8 147.6 109.9C153.8 111.0 159.9 112.0 166.1 112.9C172.2 113.7 178.3 114.4 184.5 115.1M0.0 80.5C6.1 82.9 12.3 85.4 18.4 87.7C24.6 90.0 30.7 92.2 36.9 94.3C43.0 96.4 49.2 98.5 55.4 100.4C61.5 102.3 67.6 104.2 73.8 106.0C80.0 107.7 86.1 109.4 92.2 111.0C98.4 112.6 104.5 114.1 110.7 115.5C116.9 116.9 123.0 118.2 129.2 119.4C135.3 120.7 141.4 121.8 147.6 122.9C153.8 124.0 159.9 125.0 166.1 125.9C172.2 126.8 178.3 127.5 184.5 128.4M0.0 98.5C6.1 100.7 12.3 103.1 18.4 105.3C24.6 107.6 30.7 109.7 36.9 111.8C43.0 113.8 49.2 115.8 55.4 117.7C61.5 119.7 67.6 121.5 73.8 123.3C80.0 125.0 86.1 126.7 92.2 128.3C98.4 129.8 104.5 131.4 110.7 132.8C116.9 134.2 123.0 135.5 129.2 136.7C135.3 138.0 141.4 139.1 147.6 140.2C153.8 141.2 159.9 142.2 166.1 143.0C172.2 143.9 178.3 144.5 184.5 145.3M0.0 112.7C6.1 115.0 12.3 117.4 18.4 119.7C24.6 121.9 30.7 124.0 36.9 126.0C43.0 128.1 49.2 130.0 55.4 131.8C61.5 133.7 67.6 135.5 73.8 137.1C80.0 138.8 86.1 140.4 92.2 141.9C98.4 143.4 104.5 144.8 110.7 146.2C116.9 147.5 123.0 148.8 129.2 150.0C135.3 151.2 141.4 152.3 147.6 153.4C153.8 154.4 159.9 155.4 166.1 156.3C172.2 157.2 178.3 158.0 184.5 158.8M0.0 123.7C6.1 125.9 12.3 128.2 18.4 130.3C24.6 132.4 30.7 134.5 36.9 136.5C43.0 138.5 49.2 140.5 55.4 142.3C61.5 144.2 67.6 146.0 73.8 147.7C80.0 149.4 86.1 151.0 92.2 152.6C98.4 154.1 104.5 155.6 110.7 157.0C116.9 158.4 123.0 159.7 129.2 160.9C135.3 162.1 141.4 163.2 147.6 164.2C153.8 165.2 159.9 166.1 166.1 166.9C172.2 167.8 178.3 168.4 184.5 169.1M0.0 135.7C6.1 137.9 12.3 140.2 18.4 142.4C24.6 144.6 30.7 146.7 36.9 148.7C43.0 150.7 49.2 152.7 55.4 154.6C61.5 156.5 67.6 158.3 73.8 160.0C80.0 161.8 86.1 163.4 92.2 164.9C98.4 166.5 104.5 168.0 110.7 169.3C116.9 170.7 123.0 171.9 129.2 173.1C135.3 174.2 141.4 175.3 147.6 176.2C153.8 177.2 159.9 178.0 166.1 178.7C172.2 179.4 178.3 179.9 184.5 180.4" stroke="#151313" stroke-width="1.75" fill="none"/></g></svg>
<div class="t" style="left:425.00px;top:697.72px;font-size:9.50px;color:#2a2626;letter-spacing:0.30px;">输入转速 3500r/min</div>
<div class="t sm" style="left:645.50px;top:716.60px;font-size:6.80px;transform:translateX(-100%);color:#4f4b4b;">图4-4</div>
<div class="t" style="left:458.20px;top:721.60px;font-size:8.70px;transform:translateX(-100%);color:#4f4a4a;">10000</div>
<div class="t" style="left:458.20px;top:773.16px;font-size:8.70px;transform:translateX(-100%);color:#4f4a4a;">1000</div>
<div class="t" style="left:458.20px;top:824.72px;font-size:8.70px;transform:translateX(-100%);color:#4f4a4a;">100</div>
<div class="t" style="left:458.20px;top:876.28px;font-size:8.70px;transform:translateX(-100%);color:#4f4a4a;">10</div>
<div class="t" style="left:458.20px;top:927.84px;font-size:8.70px;transform:translateX(-100%);color:#4f4a4a;">1</div>
<div class="t" style="left:458.20px;top:979.40px;font-size:8.70px;transform:translateX(-100%);color:#4f4a4a;">0.1</div>
<div class="t" style="left:463.20px;top:986.40px;font-size:8.70px;transform:translateX(-50%);color:#4f4a4a;">-10</div>
<div class="t" style="left:498.60px;top:986.40px;font-size:8.70px;transform:translateX(-50%);color:#4f4a4a;">0</div>
<div class="t" style="left:536.10px;top:986.40px;font-size:8.70px;transform:translateX(-50%);color:#4f4a4a;">10</div>
<div class="t" style="left:573.00px;top:986.40px;font-size:8.70px;transform:translateX(-50%);color:#4f4a4a;">20</div>
<div class="t" style="left:609.90px;top:986.40px;font-size:8.70px;transform:translateX(-50%);color:#4f4a4a;">30</div>
<div class="t" style="left:646.80px;top:986.40px;font-size:8.70px;transform:translateX(-50%);color:#4f4a4a;">40</div>
<div class="t" style="left:552.05px;top:1002.10px;font-size:8.70px;transform:translateX(-50%);color:#4f4b4b;">温度（℃）</div>
<div class="t sm" style="left:646.50px;top:804.24px;font-size:7.30px;color:#4f4b4b;">65</div>
<div class="t sm" style="left:646.50px;top:811.60px;font-size:7.30px;color:#4f4b4b;">58</div>
<div class="t sm" style="left:646.50px;top:821.36px;font-size:7.30px;color:#4f4b4b;">50</div>
<div class="t sm" style="left:646.50px;top:828.57px;font-size:7.30px;color:#4f4b4b;">45</div>
<div class="t sm" style="left:646.50px;top:835.81px;font-size:7.30px;color:#4f4b4b;">40</div>
<div class="t sm" style="left:646.50px;top:849.04px;font-size:7.30px;color:#4f4b4b;">32</div>
<div class="t sm" style="left:646.50px;top:865.97px;font-size:7.30px;color:#4f4b4b;">25</div>
<div class="t sm" style="left:646.50px;top:879.49px;font-size:7.30px;color:#4f4b4b;">20</div>
<div class="t sm" style="left:646.50px;top:889.75px;font-size:7.30px;color:#4f4b4b;">17</div>
<div class="t sm" style="left:646.50px;top:901.11px;font-size:7.30px;color:#4f4b4b;">14</div>
<div class="t" style="left:422.00px;top:844.30px;font-size:8.5px;color:#4f4b4b;transform:translate(-50%,-50%) rotate(-90deg);">无负载运行转矩（<span style="font-size:8.9px;letter-spacing:0.3px">cNm</span>）</div>
<div class="t" style="left:669.10px;top:849.90px;font-size:8.5px;color:#4f4b4b;transform:translate(-50%,-50%) rotate(-90deg);">型号</div>
<div class="t sm" style="left:581.60px;top:1012.00px;font-size:7.40px;color:#c8202f;">※本图的数值为平均值<span style="margin-left:1.6px"></span><span style="display:inline-block;border-top:0.6px solid #c8202f;line-height:0.86;padding-top:0.5px;margin:0 0.3px">X</span>。<span style="display:inline-block;transform:skewX(-14deg);margin:0 0.4px 0 -1.6px;">σ</span><span style="margin:0 0.4px">≒</span><span style="display:inline-block;border-top:0.6px solid #c8202f;line-height:0.86;padding-top:0.5px;margin:0 0.3px">X</span>&#215;<span style="font-size:7.9px">0.2</span></div>
<div class="b" style="left:37.30px;top:1035.50px;width:1.90px;height:26.00px;background:#c00418;"></div>
<div class="t" style="left:34.80px;top:1036.40px;font-size:8.60px;transform:translateX(-100%);color:#231f20;">06</div>
</div>
</body></html>
